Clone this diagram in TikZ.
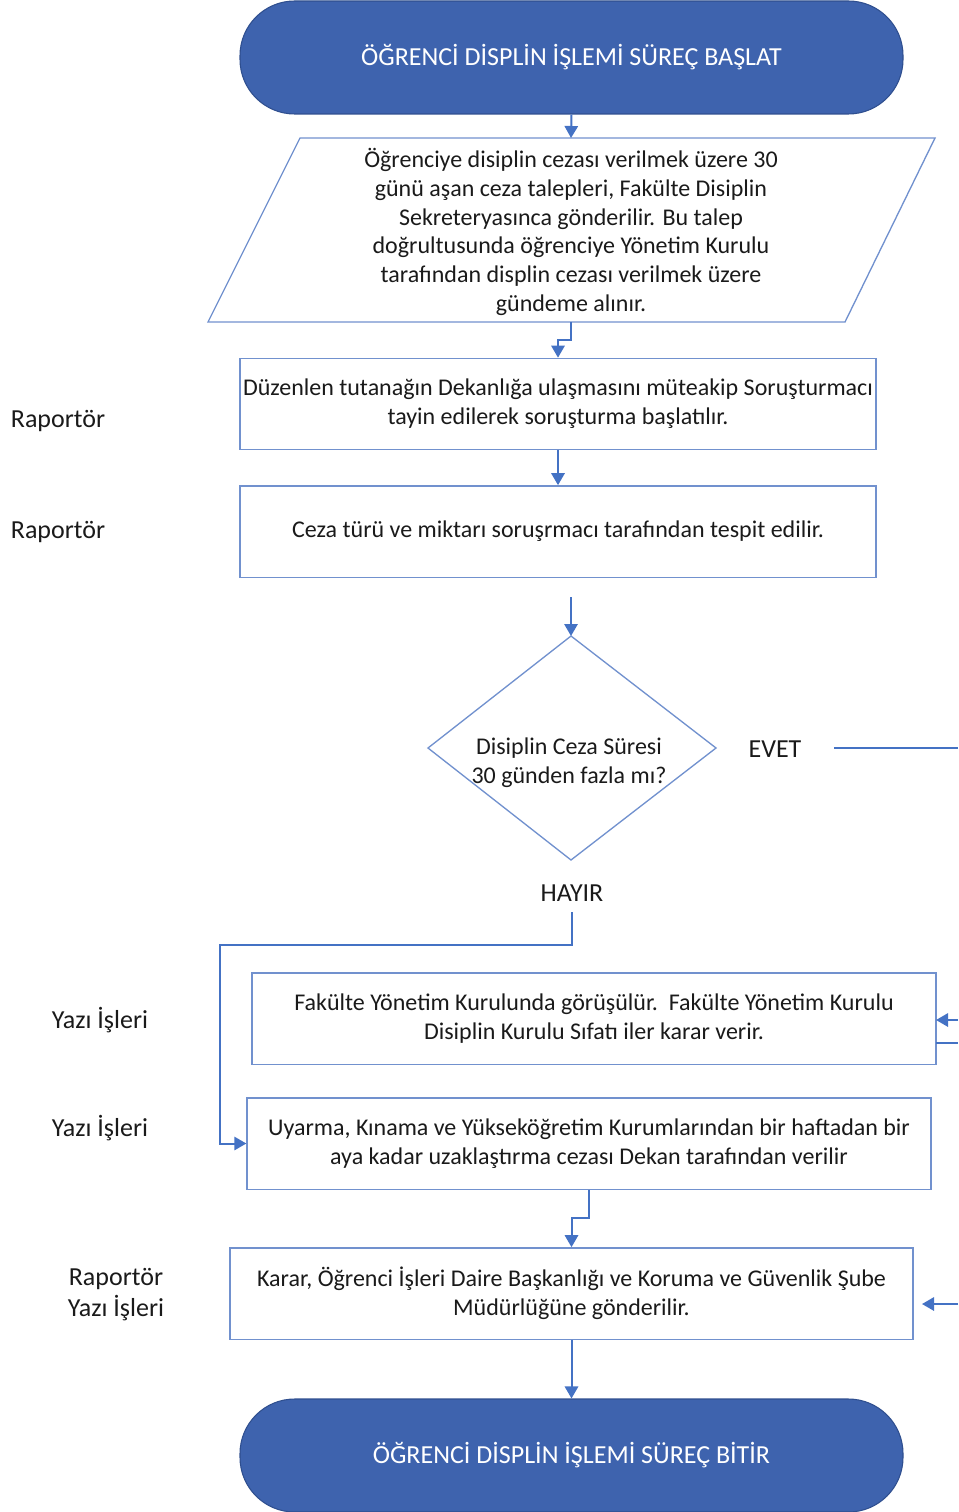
\documentclass[tikz,border=0pt]{standalone}
\usepackage{fontspec}
\setmainfont{Carlito}
\usetikzlibrary{arrows.meta}
\definecolor{lineblue}{HTML}{4472C4}
\definecolor{boxblue}{HTML}{7191CE}
\definecolor{termfill}{HTML}{3E63AE}
\definecolor{termedge}{HTML}{2F4F8F}
\definecolor{txt}{HTML}{1A1A1A}
\begin{document}
\begin{tikzpicture}[x=0.75pt,y=-0.75pt,
  every node/.style={font=\fontsize{18}{21.5}\selectfont, text=txt},
  termbox/.style={draw=termedge, line width=0.8pt, fill=termfill, rounded corners=41pt,
    minimum width=497.25pt, minimum height=84.75pt, inner sep=0pt,
    text=white, font=\fontsize{19.5}{22}\selectfont},
  procbox/.style={draw=boxblue, line width=1pt, fill=white, minimum height=68.5pt,
    inner sep=0pt, align=center},
  shapeline/.style={draw=boxblue, line width=1pt},
  conn/.style={draw=lineblue, line width=1.5pt},
  arr/.style={conn, -{Triangle[length=9pt,width=10pt]}},
  sidelbl/.style={align=center, font=\fontsize{19.5}{23.25}\selectfont}
]
\useasboundingbox (0,0) rectangle (958,1512);

% start / end terminators
\node[termbox] (start) at (571.5,57.5) {ÖĞRENCİ DİSPLİN İŞLEMİ SÜREÇ BAŞLAT};
\node[termbox] (end) at (571.5,1455.5) {ÖĞRENCİ DİSPLİN İŞLEMİ SÜREÇ BİTİR};

% parallelogram
\coordinate (p1) at (300,138);
\coordinate (p2) at (935,138);
\coordinate (p3) at (845,322);
\coordinate (p4) at (208,322);
\coordinate (ptop) at (571,138);
\coordinate (pbot) at (571,322);
\path[shapeline] (p1) -- (p2) -- (p3) -- (p4) -- cycle;
\node[align=center, font=\fontsize{18}{21.5}\selectfont] (para) at (571,232) {Öğrenciye disiplin cezası verilmek üzere 30\\günü aşan ceza talepleri, Fakülte Disiplin\\Sekreteryasınca gönderilir. Bu talep\\doğrultusunda öğrenciye Yönetim Kurulu\\tarafından displin cezası verilmek üzere\\gündeme alınır.};

% process boxes
\node[procbox, minimum width=477pt] (box1) at (558,404) {Düzenlen tutanağın Dekanlığa ulaşmasını müteakip Soruşturmacı\\tayin edilerek soruşturma başlatılır.};
\node[procbox, minimum width=477pt] (box2) at (558,531.5) {Ceza türü ve miktarı soruşrmacı tarafından tespit edilir.};
\node[procbox, minimum width=513pt] (box3) at (594,1018.5) {Fakülte Yönetim Kurulunda görüşülür.\ \ Fakülte Yönetim Kurulu\\Disiplin Kurulu Sıfatı iler karar verir.};
\node[procbox, minimum width=513pt] (box4) at (589,1143.5) {Uyarma, Kınama ve Yükseköğretim Kurumlarından bir haftadan bir\\aya kadar uzaklaştırma cezası Dekan tarafından verilir};
\node[procbox, minimum width=512.25pt] (box5) at (571.5,1293.5) {Karar, Öğrenci İşleri Daire Başkanlığı ve Koruma ve Güvenlik Şube\\Müdürlüğüne gönderilir.};

% decision diamond
\coordinate (dtop) at (571,636);
\coordinate (dright) at (716,748);
\coordinate (dbot) at (571,860);
\coordinate (dleft) at (428,748);
\path[shapeline] (dtop) -- (dright) -- (dbot) -- (dleft) -- cycle;
\node[align=center] (dec) at (569,763) {Disiplin Ceza Süresi\\30 günden fazla mı?};

\node[sidelbl] (evet) at (775,749) {EVET};
\node[sidelbl] (hayir) at (572,893) {HAYIR};

% side labels
\node[sidelbl] (r1) at (58,421) {Raportör};
\node[sidelbl] (r2) at (58,532) {Raportör};
\node[sidelbl] (y1) at (100,1020) {Yazı İşleri};
\node[sidelbl] (y2) at (100,1128) {Yazı İşleri};
\node[sidelbl, font=\fontsize{19.5}{23.25}\selectfont] (ry) at (116,1294.5) {Raportör\\Yazı İşleri};

% free ends
\coordinate (dstart) at (571,597);
\coordinate (evetA) at (834,748);
\coordinate (evetB) at (958,748);
\coordinate (b3inA) at (958,1020);
\coordinate (b3inB) at (936,1020);
\coordinate (b3outA) at (936,1043);
\coordinate (b3outB) at (958,1043);
\coordinate (b5inA) at (958,1304);
\coordinate (b5inB) at (922,1304);
\coordinate (hayirA) at (572,912);

% connectors
\draw[arr] (start.south) -- (ptop);
\draw[arr] (pbot) -- ++(0,18) -| (box1.north);
\draw[arr] (box1.south) -- (box2.north);
\draw[arr] (dstart) -- (dtop);
\draw[conn] (evetA) -- (evetB);
\draw[arr] (hayirA) -- (572,945) -- (220,945) |- (box4.west);
\draw[arr] (b3inA) -- (b3inB);
\draw[conn] (b3outA) -- (b3outB);
\draw[arr] (box4.south) -- ++(0,28) -| (box5.north);
\draw[arr] (b5inA) -- (b5inB);
\draw[arr] (box5.south) -- (end.north);
\end{tikzpicture}
\end{document}
